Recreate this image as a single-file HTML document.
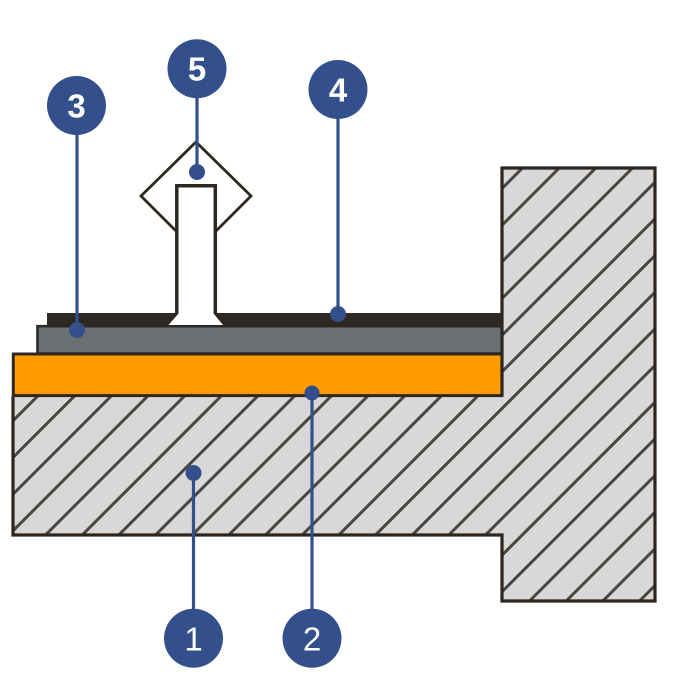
<!DOCTYPE html>
<html><head><meta charset="utf-8"><style>
html,body{margin:0;padding:0;background:#fff;width:692px;height:700px;overflow:hidden;}
svg{display:block;}
text{font-family:"Liberation Sans",sans-serif;font-weight:bold;font-size:33px;fill:#fff;text-anchor:middle;}
</style></head><body>
<svg width="692" height="700" viewBox="0 0 692 700" xmlns="http://www.w3.org/2000/svg">
<defs>
<clipPath id="c"><path d="M13,396 H502 V168 H655 V601 H502 V535 H13 Z"/></clipPath>
</defs>
<path d="M13,396 H502 V168 H655 V601 H502 V535 H13 Z" fill="#d8d8d8"/>
<g clip-path="url(#c)" stroke="#4a4641" stroke-width="3">
<line x1="13" y1="420.8" x2="265.8" y2="168"/>
<line x1="13" y1="457.5" x2="302.5" y2="168"/>
<line x1="13" y1="494.2" x2="339.2" y2="168"/>
<line x1="13" y1="530.8" x2="375.8" y2="168"/>
<line x1="13" y1="567.5" x2="412.5" y2="168"/>
<line x1="16.2" y1="601" x2="449.2" y2="168"/>
<line x1="52.8" y1="601" x2="485.8" y2="168"/>
<line x1="89.5" y1="601" x2="522.5" y2="168"/>
<line x1="126.2" y1="601" x2="559.2" y2="168"/>
<line x1="162.8" y1="601" x2="595.8" y2="168"/>
<line x1="199.5" y1="601" x2="632.5" y2="168"/>
<line x1="236.2" y1="601" x2="655" y2="182.2"/>
<line x1="272.8" y1="601" x2="655" y2="218.8"/>
<line x1="309.5" y1="601" x2="655" y2="255.5"/>
<line x1="346.2" y1="601" x2="655" y2="292.2"/>
<line x1="382.8" y1="601" x2="655" y2="328.8"/>
<line x1="419.5" y1="601" x2="655" y2="365.5"/>
<line x1="456.2" y1="601" x2="655" y2="402.2"/>
<line x1="492.8" y1="601" x2="655" y2="438.8"/>
<line x1="529.5" y1="601" x2="655" y2="475.5"/>
<line x1="566.2" y1="601" x2="655" y2="512.2"/>
<line x1="602.8" y1="601" x2="655" y2="548.8"/>
<line x1="639.5" y1="601" x2="655" y2="585.5"/>
</g>
<!-- layers -->
<rect x="47" y="313" width="455" height="13.5" fill="#2e2822"/>
<rect x="37.5" y="326.2" width="464.5" height="27.3" fill="#6c7073" stroke="#2e2822" stroke-width="2.6"/>
<rect x="13.3" y="354" width="488.7" height="41.6" fill="#ff9c00" stroke="#2e2822" stroke-width="3"/>
<path d="M502,396 V168 H655 V601 H502 V535 H13 V396" fill="none" stroke="#2d261f" stroke-width="3.2"/>
<!-- nail -->
<polygon points="196,142 251,196 196,251 141,196" fill="none" stroke="#2e2822" stroke-width="2.8"/>
<path d="M176.8,316 V185.8 H215.3 V316" fill="#fff" stroke="#2e2822" stroke-width="3.5"/>
<polygon points="178.6,313.5 213.5,313.5 223,325 168.5,325" fill="#fff"/>
<!-- connectors -->
<g stroke="#33508d" stroke-width="3.2" fill="none">
<line x1="77" y1="105" x2="77" y2="330"/>
<line x1="197" y1="69" x2="197" y2="172"/>
<line x1="338" y1="89" x2="338" y2="314"/>
<line x1="193.5" y1="473" x2="193.5" y2="638"/>
<line x1="312" y1="393" x2="312" y2="638"/>
</g>
<g fill="#33508d">
<circle cx="77" cy="330" r="8"/>
<circle cx="197" cy="172" r="8"/>
<circle cx="338" cy="314" r="8"/>
<circle cx="193.5" cy="473" r="8"/>
<circle cx="312" cy="393" r="7.5"/>
<circle cx="76.5" cy="105.5" r="29.5"/>
<circle cx="197" cy="68.7" r="29.5"/>
<circle cx="338" cy="89.5" r="29.5"/>
<circle cx="193.5" cy="638.3" r="29.5"/>
<circle cx="312" cy="638.3" r="29.5"/>
</g>
<text x="76.5" y="117.5">3</text>
<text x="197" y="80.7">5</text>
<text x="338" y="101.5">4</text>
<text x="193.5" y="650.3" style="font-weight:normal">1</text>
<text x="312" y="650.3" style="font-weight:normal">2</text>
</svg>
</body></html>
